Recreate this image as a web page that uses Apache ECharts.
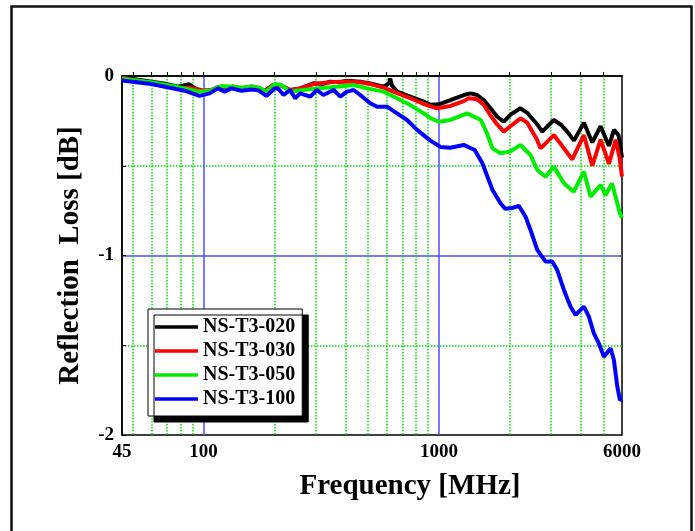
<!DOCTYPE html>
<html>
<head>
<meta charset="utf-8">
<script src="https://cdn.jsdelivr.net/npm/echarts@6/dist/echarts.min.js"></script>
<style>
  html, body { margin: 0; padding: 0; background: #fff; }
  #chart { width: 695px; height: 531px; }
</style>
</head>
<body>
<div id="chart"></div>
<script>
// tick labels / grid positions
var xLabels = [45, 100, 1000, 6000];
var xMajor = [100, 1000];
var xMinor = [50, 60, 70, 80, 90, 200, 300, 400, 500, 600, 700, 800, 900, 2000, 3000, 4000, 5000];
var yLabels = [-2, -1, 0];

var names = ['NS-T3-020', 'NS-T3-030', 'NS-T3-050', 'NS-T3-100'];

// NS-T3-020
var freq020 = [45, 52, 60, 70, 78, 87, 92, 100, 108, 115, 123, 133, 145, 160, 171, 182, 198, 212, 233, 257, 293, 320, 345, 380, 407, 463, 511, 582, 615, 621, 630, 664, 756, 862, 920, 1000, 1119, 1275, 1362, 1454, 1551, 1657, 1769, 1887, 2015, 2222, 2373, 2618, 2749, 3080, 3289, 3512, 3750, 4133, 4487, 4866, 5279, 5543, 5800, 6000];
var db020 = [-0.007, -0.02, -0.032, -0.045, -0.06, -0.046, -0.069, -0.087, -0.078, -0.063, -0.078, -0.06, -0.069, -0.06, -0.069, -0.082, -0.05, -0.05, -0.078, -0.069, -0.041, -0.045, -0.032, -0.035, -0.026, -0.032, -0.041, -0.06, -0.04, -0.013, -0.05, -0.087, -0.115, -0.143, -0.16, -0.158, -0.134, -0.106, -0.097, -0.106, -0.134, -0.18, -0.227, -0.254, -0.215, -0.18, -0.205, -0.27, -0.31, -0.245, -0.27, -0.31, -0.36, -0.26, -0.37, -0.28, -0.39, -0.30, -0.33, -0.455];

// NS-T3-030
var freq030 = [45, 60, 70, 78, 87, 100, 108, 115, 123, 133, 145, 160, 171, 182, 198, 212, 233, 257, 293, 345, 407, 463, 511, 582, 664, 756, 862, 982, 1119, 1275, 1339, 1454, 1551, 1657, 1769, 1887, 2015, 2222, 2373, 2600, 2704, 3080, 3300, 3688, 4133, 4487, 4866, 5279, 5637, 5850, 6000];
var db030 = [-0.01, -0.04, -0.06, -0.065, -0.065, -0.08, -0.078, -0.063, -0.075, -0.058, -0.069, -0.058, -0.065, -0.085, -0.05, -0.05, -0.08, -0.07, -0.045, -0.035, -0.03, -0.035, -0.045, -0.065, -0.095, -0.124, -0.156, -0.18, -0.167, -0.14, -0.124, -0.13, -0.16, -0.22, -0.27, -0.31, -0.28, -0.236, -0.26, -0.35, -0.403, -0.329, -0.38, -0.465, -0.33, -0.5, -0.355, -0.49, -0.355, -0.45, -0.56];

// NS-T3-050
var freq050 = [45, 60, 70, 83, 96, 106, 119, 133, 145, 160, 171, 185, 201, 214, 233, 266, 303, 369, 434, 495, 582, 664, 756, 862, 920, 1000, 1119, 1318, 1508, 1600, 1690, 1827, 2015, 2222, 2451, 2618, 2840, 3080, 3398, 3740, 4133, 4413, 4866, 5110, 5440, 5880, 6000];
var db050 = [-0.015, -0.035, -0.05, -0.07, -0.087, -0.082, -0.056, -0.06, -0.065, -0.058, -0.065, -0.087, -0.045, -0.05, -0.087, -0.078, -0.069, -0.06, -0.05, -0.069, -0.087, -0.124, -0.162, -0.208, -0.235, -0.255, -0.245, -0.208, -0.245, -0.319, -0.403, -0.43, -0.42, -0.384, -0.44, -0.524, -0.561, -0.505, -0.598, -0.645, -0.533, -0.672, -0.607, -0.663, -0.598, -0.765, -0.79];

// NS-T3-100
var freq100 = [45, 60, 83, 96, 106, 115, 123, 131, 145, 160, 171, 185, 200, 207, 219, 233, 245, 257, 284, 303, 323, 357, 381, 407, 434, 463, 511, 546, 602, 664, 732, 808, 920, 1015, 1119, 1275, 1420, 1530, 1690, 1827, 1915, 2050, 2190, 2335, 2451, 2618, 2840, 3032, 3184, 3398, 3628, 3809, 4133, 4340, 4557, 4786, 5027, 5368, 5543, 5731, 5880, 6000];
var db100 = [-0.025, -0.045, -0.082, -0.111, -0.097, -0.069, -0.087, -0.069, -0.082, -0.075, -0.08, -0.111, -0.07, -0.07, -0.106, -0.078, -0.124, -0.097, -0.115, -0.078, -0.106, -0.078, -0.115, -0.087, -0.078, -0.106, -0.152, -0.171, -0.171, -0.208, -0.245, -0.30, -0.36, -0.395, -0.40, -0.384, -0.412, -0.486, -0.635, -0.709, -0.74, -0.735, -0.724, -0.784, -0.858, -0.969, -1.034, -1.034, -1.081, -1.192, -1.285, -1.331, -1.285, -1.341, -1.434, -1.49, -1.564, -1.517, -1.582, -1.731, -1.805, -1.8];

var freqs = [freq020, freq030, freq050, freq100];
var dbs = [db020, db030, db050, db100];
var colors = ['#000000', '#ff0000', '#00ee00', '#0000ff'];

function zip(xs, ys) {
  var out = [];
  for (var i = 0; i < xs.length; i++) out.push([xs[i], ys[i]]);
  return out;
}

var serif = '"Liberation Serif", "Times New Roman", serif';
var green = '#00e600';
var blue = '#4d4dff';

var chart = echarts.init(document.getElementById('chart'));
var option = {
  animation: false,
  backgroundColor: '#fff',
  color: colors,
  graphic: [{
    type: 'rect',
    shape: {x: 11.5, y: 6.5, width: 680, height: 600},
    style: {fill: 'none', stroke: '#111', lineWidth: 2.5},
    silent: true
  }],
  grid: {
    left: 122, right: 73, top: 76, bottom: 96,
    show: true, borderColor: '#000', borderWidth: 1.5
  },
  legend: {
    orient: 'vertical',
    left: 148, top: 309,
    data: names,
    icon: 'rect',
    itemWidth: 43, itemHeight: 3.5,
    itemGap: 4,
    padding: [8, 7, 7, 7],
    backgroundColor: '#fff',
    borderColor: '#000', borderWidth: 1,
    shadowColor: '#000', shadowBlur: 0, shadowOffsetX: 6, shadowOffsetY: 6,
    textStyle: {fontFamily: serif, fontWeight: 'bold', fontSize: 20, color: '#000'}
  },
  xAxis: [{
    type: 'log', min: 45, max: 6000, logBase: 10,
    name: 'Frequency [MHz]', nameLocation: 'middle', nameGap: 37,
    nameTextStyle: {fontFamily: serif, fontWeight: 'bold', fontSize: 29, color: '#000', padding: [0, 0, 0, 76]},
    axisLine: {lineStyle: {color: '#000', width: 1.5}},
    axisTick: {inside: true, length: 4, customValues: xMajor, lineStyle: {color: '#000'}},
    axisLabel: {
      customValues: xLabels, margin: 8, fontFamily: serif, fontWeight: 'bold', fontSize: 19, color: '#000',
      formatter: function (v) { return String(Math.round(v)); }
    },
    splitLine: {show: true, lineStyle: {color: blue, width: 1.5, type: 'solid'}},
    z: 3
  }, {
    type: 'log', min: 45, max: 6000, logBase: 10, position: 'bottom',
    axisLine: {show: false},
    axisTick: {show: true, inside: true, length: 4, customValues: xMinor, lineStyle: {color: '#000'}},
    axisLabel: {show: false},
    splitLine: {show: true, lineStyle: {color: green, width: 1.5, type: [1.5, 1.5]}}
  }],
  yAxis: [{
    type: 'value', min: -2, max: 0, interval: 0.5,
    name: 'Reflection  Loss [dB]', nameLocation: 'middle', nameGap: 37,
    nameTextStyle: {fontFamily: serif, fontWeight: 'bold', fontSize: 29, color: '#000'},
    axisLine: {lineStyle: {color: '#000', width: 1.5}},
    axisTick: {inside: true, length: 4, lineStyle: {color: '#000'}},
    axisLabel: {customValues: yLabels, margin: 8, fontFamily: serif, fontWeight: 'bold', fontSize: 19, color: '#000'},
    splitLine: {show: true, lineStyle: {color: ['rgba(0,0,0,0)', green, 'rgba(0,0,0,0)', green, 'rgba(0,0,0,0)'], width: 1.5, type: [1.5, 1.5]}},
    z: 3
  }, {
    type: 'value', min: -2, max: 0, interval: 1, position: 'left',
    axisLine: {show: false}, axisTick: {show: false}, axisLabel: {show: false},
    splitLine: {show: true, lineStyle: {color: ['rgba(0,0,0,0)', blue, 'rgba(0,0,0,0)'], width: 1.5, type: 'solid'}}
  }],
  series: names.map(function (n, i) {
    return {
      name: n,
      type: 'line',
      xAxisIndex: 0, yAxisIndex: 0,
      symbol: 'none',
      lineStyle: {width: 4, color: colors[i]},
      data: zip(freqs[i], dbs[i]),
      z: 5
    };
  })
};
chart.setOption(option);
</script>
</body>
</html>
